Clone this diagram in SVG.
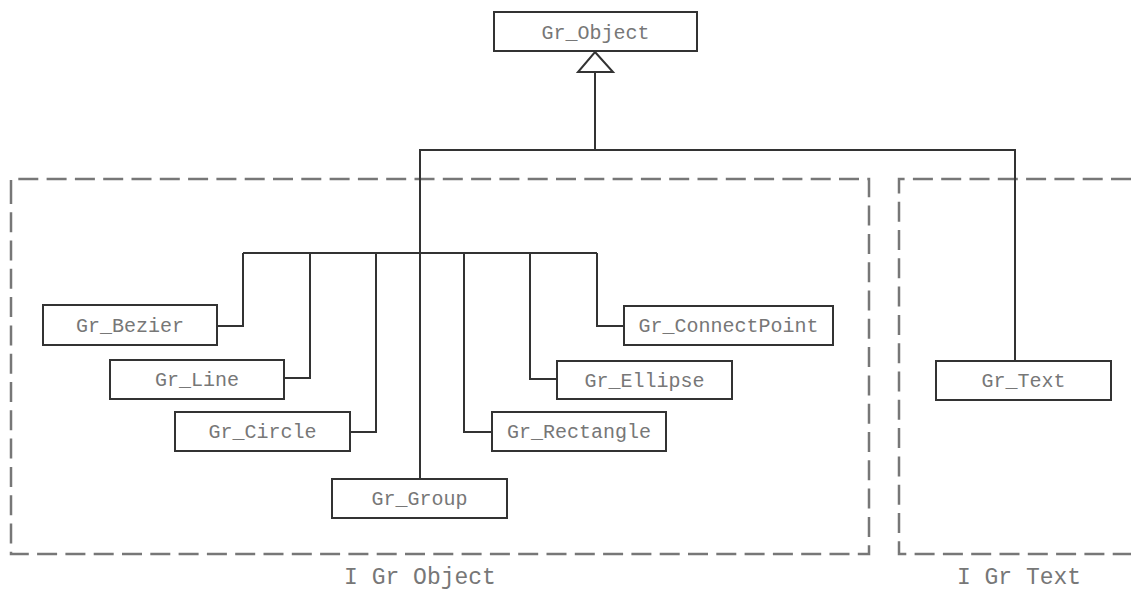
<svg xmlns="http://www.w3.org/2000/svg" width="1131" height="592" viewBox="0 0 1131 592">
<style>
.box{fill:#fff;stroke:#333;stroke-width:2}
.t{font-family:"Liberation Mono","Courier New",monospace;font-size:20px;fill:#777;text-anchor:middle}
.lbl{font-family:"Liberation Mono","Courier New",monospace;font-size:23px;fill:#777;text-anchor:middle}
.c{fill:none;stroke:#333;stroke-width:2}
.pkg{fill:none;stroke:#777;stroke-width:2.5;stroke-dasharray:20 8.3}
</style>
<rect width="1131" height="592" fill="#fff"/>
<g id="packages">
<path class="pkg" d="M11 200 V179 H869 V554 H11 Z"/>
<path class="pkg" d="M1131 179 H899 V554 H1131"/>
<text class="lbl" x="420" y="584">I Gr Object</text>
<text class="lbl" x="1019" y="584">I Gr Text</text>
</g>
<g id="connectors">
<path class="c" d="M595 72 V150"/>
<path class="c" d="M420 479 V150 H1015 V361"/>
<path class="c" d="M243 253 H597"/>
<path class="c" d="M217 326 H243 V253"/>
<path class="c" d="M284 378 H310 V253"/>
<path class="c" d="M350 432 H376 V253"/>
<path class="c" d="M492 432 H464 V253"/>
<path class="c" d="M557 379 H530 V253"/>
<path class="c" d="M624 326 H597 V253"/>
<polygon points="595,52 613,72 578,72" fill="#fff" stroke="#333" stroke-width="2"/>
</g>
<g id="Gr_Object"><rect class="box" x="494" y="12" width="203" height="39"/><text class="t" x="595.5" y="39">Gr_Object</text></g>
<g id="Gr_Bezier"><rect class="box" x="43" y="305" width="174" height="40"/><text class="t" x="130" y="332">Gr_Bezier</text></g>
<g id="Gr_Line"><rect class="box" x="110" y="360" width="174" height="39"/><text class="t" x="197" y="386">Gr_Line</text></g>
<g id="Gr_Circle"><rect class="box" x="175" y="412" width="175" height="39"/><text class="t" x="262.5" y="438">Gr_Circle</text></g>
<g id="Gr_Group"><rect class="box" x="332" y="479" width="175" height="39"/><text class="t" x="419.5" y="505">Gr_Group</text></g>
<g id="Gr_Rectangle"><rect class="box" x="492" y="412" width="174" height="39"/><text class="t" x="579" y="438">Gr_Rectangle</text></g>
<g id="Gr_Ellipse"><rect class="box" x="557" y="361" width="175" height="38"/><text class="t" x="644.5" y="387">Gr_Ellipse</text></g>
<g id="Gr_ConnectPoint"><rect class="box" x="624" y="306" width="209" height="39"/><text class="t" x="728.5" y="332">Gr_ConnectPoint</text></g>
<g id="Gr_Text"><rect class="box" x="936" y="361" width="175" height="39"/><text class="t" x="1023.5" y="387">Gr_Text</text></g>
</svg>
